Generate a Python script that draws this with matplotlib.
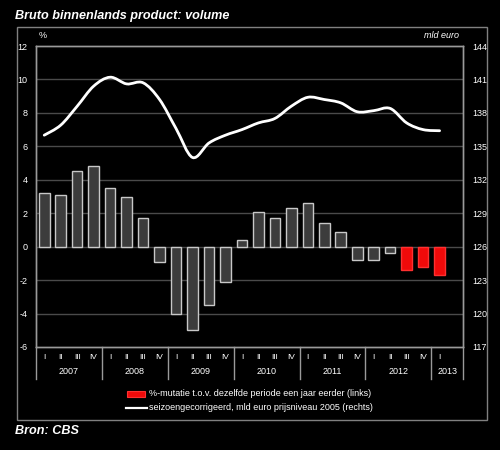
import matplotlib
matplotlib.use("Agg")
import matplotlib.pyplot as plt
from matplotlib.path import Path
from matplotlib.patches import PathPatch, Rectangle
from matplotlib.lines import Line2D
import matplotlib.transforms as mtransforms
import numpy as np

plt.rcParams['font.family'] = ['Liberation Sans', 'DejaVu Sans']

title = "Bruto binnenlands product: volume"
source = "Bron: CBS"
years = ["2007", "2008", "2009", "2010", "2011", "2012", "2013"]
quarters = ["I", "II", "III", "IV"] * 6 + ["I"]
pct_change = [3.2, 3.1, 4.5, 4.8,
              3.5, 3.0, 1.7, -0.9,
              -4.0, -5.0, -3.5, -2.1,
              0.4, 2.1, 1.7, 2.3,
              2.6, 1.4, 0.9, -0.8,
              -0.8, -0.4, -1.4, -1.2,
              -1.7]
volume = [136.0, 136.9, 138.6, 140.4,
          141.2, 140.6, 140.7, 139.2,
          136.6, 134.0, 135.3, 136.0,
          136.5, 137.1, 137.5, 138.6,
          139.4, 139.2, 138.9, 138.1,
          138.2, 138.4, 137.1, 136.5,
          136.4]
n_red = 3
legend_labels = ["%-mutatie t.o.v. dezelfde periode een jaar eerder (links)",
                 "seizoengecorrigeerd, mld euro prijsniveau 2005 (rechts)"]

BG = 'black'
FG = 'white'
GRID = '#4a4a4a'
SPINE = '#9a9a9a'

fig = plt.figure(figsize=(5, 4.5), dpi=100, facecolor=BG)
W, H = 500, 450
ax = fig.add_axes([36 / W, 1 - 347 / H, (463 - 36) / W, (347 - 46) / H])
ax.set_facecolor(BG)
ax2 = ax.twinx()

x = np.arange(len(pct_change))
colors_face = ['#3c3c3c'] * (len(x) - n_red) + ['#f00a0a'] * n_red
colors_edge = ['#c8c8c8'] * (len(x) - n_red) + ['#ff3030'] * n_red
ax.bar(x, pct_change, width=0.64, color=colors_face, edgecolor=colors_edge,
       linewidth=1.0, zorder=3)

ax.set_ylim(-6, 12)
ax.set_xlim(-0.5, 25.42)
ax.set_yticks(np.arange(-6, 13, 2))
ax.set_yticklabels([str(v) for v in range(-6, 13, 2)], color=FG, fontsize=6.5)
for v in range(-4, 12, 2):
    ax.axhline(v, color=GRID, lw=1.0, zorder=1)

ax2.set_ylim(117, 144)
ax2.set_yticks(np.arange(117, 145, 3))
ax2.set_yticklabels([str(v) for v in range(117, 145, 3)], color=FG, fontsize=6.5)

# smooth line through the volume points (Catmull-Rom as Bezier)
pts = np.column_stack([x, volume]).astype(float)
verts = [tuple(pts[0])]
codes = [Path.MOVETO]
for i in range(len(pts) - 1):
    p0 = pts[i - 1] if i > 0 else pts[i]
    p1 = pts[i]
    p2 = pts[i + 1]
    p3 = pts[i + 2] if i + 2 < len(pts) else pts[i + 1]
    c1 = p1 + (p2 - p0) / 6.0
    c2 = p2 - (p3 - p1) / 6.0
    verts += [tuple(c1), tuple(c2), tuple(p2)]
    codes += [Path.CURVE4] * 3
ax2.add_patch(PathPatch(Path(verts, codes), fill=False, edgecolor=FG, lw=2.0,
                        zorder=4, capstyle='round', joinstyle='round'))

for a in (ax, ax2):
    for s in a.spines.values():
        s.set_color(SPINE)
        s.set_linewidth(1.0)
    a.tick_params(axis='y', length=0, pad=6)
ax2.tick_params(axis='y', pad=7)

# x-axis quarter labels
ax.set_xticks(x)
ax.set_xticklabels(quarters, color=FG, fontsize=6)
ax.tick_params(axis='x', length=0, pad=5)

trans = mtransforms.blended_transform_factory(ax.transData, ax.transAxes)
sep_positions = [-0.5 + 4 * k for k in range(7)] + [25.42]
for sx in sep_positions:
    ax.plot([sx, sx], [0, -32 / 301], transform=trans, color=SPINE, lw=1.0,
            clip_on=False)
year_centers = [1.5 + 4 * k for k in range(6)] + [24.46]
for yc, yl in zip(year_centers, years):
    ax.text(yc, -25 / 301, yl, transform=trans, color=FG, fontsize=6.5,
            ha='center', va='center')

# unit labels
fig.text(43 / W, 1 - 36 / H, "%", color=FG, fontsize=6.5, ha='center', va='center')
fig.text(442 / W, 1 - 35 / H, "mld euro", color=FG, fontsize=6.5, style='italic',
         ha='center', va='center')

# titles
fig.text(15 / W, 1 - 16 / H, title, color=FG, fontsize=9.1, fontweight='bold',
         style='italic', ha='left', va='center')
fig.text(15 / W, 1 - 431 / H, source, color=FG, fontsize=9.1, fontweight='bold',
         style='italic', ha='left', va='center')

# outer frame
fig.add_artist(Rectangle((17 / W, 1 - 420 / H), 470 / W, 393 / H, fill=False,
                         edgecolor='#808080', lw=1.0, transform=fig.transFigure))

# legend
fig.add_artist(Rectangle((127 / W, 1 - 396.5 / H), 18 / W, 6 / H,
                         facecolor='#f00a0a', edgecolor='#ff3030', lw=0.8,
                         transform=fig.transFigure))
fig.add_artist(Line2D([126 / W, 147 / W], [1 - 408 / H, 1 - 408 / H], color=FG,
                      lw=1.6, transform=fig.transFigure))
fig.text(149 / W, 1 - 393.5 / H, legend_labels[0], color=FG, fontsize=6.5,
         ha='left', va='center')
fig.text(149 / W, 1 - 408 / H, legend_labels[1], color=FG, fontsize=6.5,
         ha='left', va='center')

fig.savefig("out.png", dpi=100, facecolor=BG)
